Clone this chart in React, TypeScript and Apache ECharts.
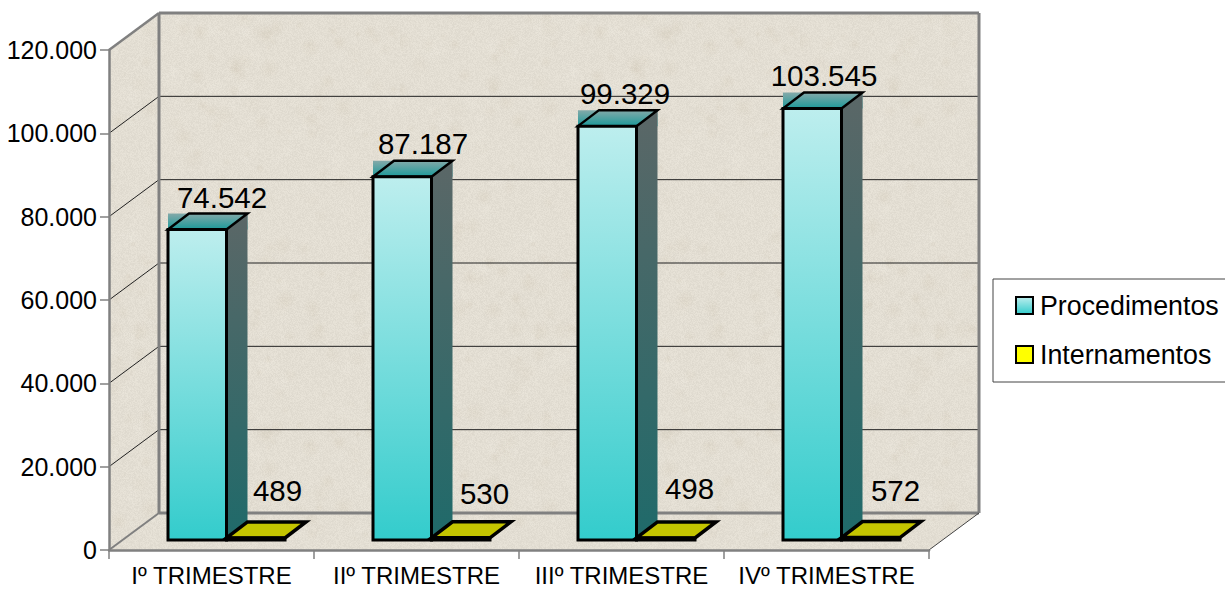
import React, { useEffect, useRef } from "react";
import * as echarts from "echarts";

const categories = ["Iº TRIMESTRE", "IIº TRIMESTRE", "IIIº TRIMESTRE", "IVº TRIMESTRE"];
const procedimentos = [74542, 87187, 99329, 103545];
const internamentos = [489, 530, 498, 572];
const yMax = 120000;
const yStep = 20000;

// 3D layout (pixels)
const WALL_DX = 50;
const WALL_DY = 37;
const BAR_DX = 21;
const BAR_DY = 16;
const FRONT_DX = 13.5;
const FRONT_DY = 10;
const BAR_W = 58.5;
const BAR_START = -57;
const labelNudgeProc = [54, 50, 47, 41];
const labelRiseProc = [16, 17, 17, 17];
const labelNudgeInt = [51, 53, 53, 54];
const labelRiseInt = [31, 28, 33, 31];

const FONT = "'Liberation Sans', Arial, sans-serif";

function fmt(v: number) {
  return String(v).replace(/\B(?=(\d{3})+(?!\d))/g, ".");
}

function makeTexture() {
  const size = 400;
  const c = document.createElement("canvas");
  c.width = size;
  c.height = size;
  const g = c.getContext("2d")!;
  g.fillStyle = "#e3ded3";
  g.fillRect(0, 0, size, size);
  let s = 12345;
  const rnd = () => {
    s = (s * 1103515245 + 12345) & 0x7fffffff;
    return s / 0x7fffffff;
  };
  for (let i = 0; i < 520; i++) {
    const x = rnd() * size;
    const y = rnd() * size;
    const r = 2 + rnd() * 10;
    const dark = rnd() > 0.45;
    const a = 0.04 + rnd() * 0.11;
    const base = dark ? "192,178,152" : "246,243,235";
    const gr = g.createRadialGradient(x, y, 0, x, y, r);
    gr.addColorStop(0, `rgba(${base},${a})`);
    gr.addColorStop(1, `rgba(${base},0)`);
    g.fillStyle = gr;
    g.fillRect(x - r, y - r, r * 2, r * 2);
  }
  const img = g.getImageData(0, 0, size, size);
  for (let i = 0; i < img.data.length; i += 4) {
    const n = (rnd() - 0.5) * 11;
    img.data[i] += n;
    img.data[i + 1] += n;
    img.data[i + 2] += n;
  }
  g.putImageData(img, 0, 0);
  return c;
}

const lin = (a: string, b: string) =>
  new echarts.graphic.LinearGradient(0, 0, 0, 1, [
    { offset: 0, color: a },
    { offset: 1, color: b },
  ]);

export default function App() {
  const ref = useRef<HTMLDivElement>(null);
  useEffect(() => {
    const chart = echarts.init(ref.current!, undefined, { renderer: "svg" });
    const tex: any = { image: makeTexture(), repeat: "repeat" };

    const renderWalls = (_p: any, api: any) => {
      const half = api.size([1, 0])[0] / 2;
      const [c0, yB] = api.coord([0, 0]);
      const [cN, yT] = api.coord([categories.length - 1, yMax]);
      const xL = c0 - half;
      const xR = cN + half;
      const wall = "#808080";
      const children: any[] = [
        { type: "polygon", shape: { points: [[xL + WALL_DX, yT - WALL_DY], [xR + WALL_DX, yT - WALL_DY], [xR + WALL_DX, yB - WALL_DY], [xL + WALL_DX, yB - WALL_DY]] }, style: { fill: tex } },
        { type: "polygon", shape: { points: [[xL, yT], [xL + WALL_DX, yT - WALL_DY], [xL + WALL_DX, yB - WALL_DY], [xL, yB]] }, style: { fill: tex } },
        { type: "polygon", shape: { points: [[xL, yB], [xL + WALL_DX, yB - WALL_DY], [xR + WALL_DX, yB - WALL_DY], [xR, yB]] }, style: { fill: tex } },
      ];
      for (let v = yStep; v < yMax; v += yStep) {
        const y = api.coord([0, v])[1];
        children.push({ type: "polyline", shape: { points: [[xL, y], [xL + WALL_DX, y - WALL_DY], [xR + WALL_DX, y - WALL_DY]] }, style: { fill: "none", stroke: "#222", lineWidth: 1 } });
      }
      const seg = (x1: number, y1: number, x2: number, y2: number, w: number, col = wall) =>
        children.push({ type: "line", shape: { x1, y1, x2, y2 }, style: { stroke: col, lineWidth: w } });
      seg(xL + WALL_DX, yT - WALL_DY, xR + WALL_DX, yT - WALL_DY, 3);
      seg(xL + WALL_DX, yT - WALL_DY, xL + WALL_DX, yB - WALL_DY, 3);
      seg(xR + WALL_DX, yT - WALL_DY, xR + WALL_DX, yB - WALL_DY, 3);
      seg(xL + WALL_DX, yB - WALL_DY, xR + WALL_DX, yB - WALL_DY, 3);
      seg(xL, yT, xL + WALL_DX, yT - WALL_DY, 2.5);
      seg(xL, yB, xL + WALL_DX, yB - WALL_DY, 2);
      seg(xR, yB, xR + WALL_DX, yB - WALL_DY, 1, "#444");
      return { type: "group", children };
    };

    const renderBar = (series: number) => (params: any, api: any) => {
      const i = api.value(0);
      const val = api.value(1);
      const [cx, y0] = api.coord([i, 0]);
      const yv = api.coord([i, val])[1];
      const x1 = cx + BAR_START + FRONT_DX + series * BAR_W;
      const x2 = x1 + BAR_W;
      const yBot = y0 - FRONT_DY;
      const yTop = yv - FRONT_DY;
      const children: any[] = [];
      if (series === 0) {
        children.push(
          { type: "rect", shape: { x: x1, y: yTop - BAR_DY, width: BAR_W + BAR_DX, height: BAR_DY }, style: { fill: lin("#84a9a9", "#1c9a9a") } },
          { type: "polygon", shape: { points: [[x2, yTop], [x2 + BAR_DX, yTop - BAR_DY], [x2 + BAR_DX, yBot - BAR_DY], [x2, yBot]] }, style: { fill: lin("#5b6767", "#1f6a6a") } },
          { type: "polygon", shape: { points: [[x1, yTop], [x1 + BAR_DX, yTop - BAR_DY], [x2 + BAR_DX, yTop - BAR_DY], [x2, yTop]] }, style: { fill: lin("#84a9a9", "#1c9a9a"), stroke: "#000", lineWidth: 2.5, lineJoin: "miter" } },
          { type: "rect", shape: { x: x1, y: yTop, width: BAR_W, height: yBot - yTop }, style: { fill: lin("#bdeeee", "#33cccc"), stroke: "#000", lineWidth: 3 } },
          { type: "line", shape: { x1: x2, y1: yBot, x2: x2 + BAR_DX, y2: yBot - BAR_DY }, style: { stroke: "#000", lineWidth: 2 } }
        );
      } else {
        children.push(
          { type: "polygon", shape: { points: [[x1, yTop], [x1 + BAR_DX, yTop - BAR_DY], [x2 + BAR_DX, yTop - BAR_DY], [x2, yTop]] }, style: { fill: "#c4c400", stroke: "#000", lineWidth: 3.5, lineJoin: "miter" } },
          { type: "rect", shape: { x: x1, y: yTop, width: BAR_W, height: yBot - yTop }, style: { fill: "#c4c400", stroke: "#000", lineWidth: 3 } }
        );
      }
      const lx = series === 0 ? x1 + labelNudgeProc[i] : x1 + labelNudgeInt[i];
      const ly = yTop - BAR_DY - (series === 0 ? labelRiseProc[i] : labelRiseInt[i]);
      children.push({
        type: "text",
        style: { text: fmt(val), x: lx, y: ly, fill: "#000", font: `29.5px ${FONT}`, align: "center", verticalAlign: "middle" },
      });
      return { type: "group", children };
    };

    chart.setOption({
      animation: false,
      backgroundColor: "#ffffff",
      grid: { left: 109, right: 296, top: 50, bottom: 39, outerBoundsMode: "none" },
      legend: {
        data: ["Procedimentos", "Internamentos"],
        orient: "vertical",
        left: 993,
        top: 279,
        padding: [13, 7, 14, 22],
        itemGap: 22,
        itemWidth: 17,
        itemHeight: 17,
        icon: "rect",
        borderColor: "#444",
        borderWidth: 1,
        itemStyle: { borderColor: "#000", borderWidth: 2 },
        textStyle: { fontFamily: FONT, fontSize: 26.8, color: "#000", padding: [0, 0, 0, 2] },
      },
      xAxis: {
        type: "category",
        data: categories,
        z: 3,
        axisLine: { lineStyle: { color: "#808080", width: 2.5 } },
        axisTick: { show: true, alignWithLabel: false, length: 9, lineStyle: { color: "#808080", width: 1.5 } },
        axisLabel: { fontFamily: FONT, fontSize: 24, lineHeight: 18, color: "#000", margin: 16, interval: 0 },
        splitLine: { show: false },
      },
      yAxis: {
        type: "value",
        min: 0,
        max: yMax,
        interval: yStep,
        z: 3,
        axisLine: { show: true, lineStyle: { color: "#808080", width: 2.5 } },
        axisTick: { show: true, length: 9, lineStyle: { color: "#808080", width: 1.5 } },
        axisLabel: { fontFamily: FONT, fontSize: 25, color: "#000", margin: 12, formatter: (v: number) => fmt(v) },
        splitLine: { show: false },
      },
      series: [
        {
          name: "Paredes",
          type: "custom",
          z: 0,
          silent: true,
          clip: false,
          renderItem: renderWalls,
          data: [[0, 0]],
          encode: { x: 0, y: 1 },
        },
        {
          name: "Procedimentos",
          type: "custom",
          z: 5,
          clip: false,
          itemStyle: { color: lin("#bdeeee", "#33cccc") },
          renderItem: renderBar(0),
          data: procedimentos.map((v, i) => [i, v]),
          encode: { x: 0, y: 1 },
        },
        {
          name: "Internamentos",
          type: "custom",
          z: 5,
          clip: false,
          itemStyle: { color: "#ffff00" },
          renderItem: renderBar(1),
          data: internamentos.map((v, i) => [i, v]),
          encode: { x: 0, y: 1 },
        },
      ],
    });
    return () => chart.dispose();
  }, []);
  return <div ref={ref} style={{ position: "absolute", left: 0, top: 0, width: 1225, height: 589 }} />;
}
